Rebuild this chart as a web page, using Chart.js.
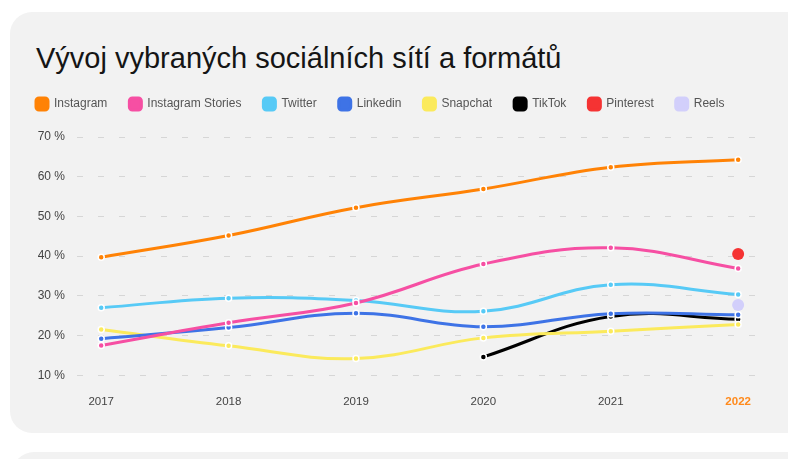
<!DOCTYPE html>
<html><head><meta charset="utf-8">
<script src="https://cdn.jsdelivr.net/npm/chart.js@4/dist/chart.umd.min.js"></script>
<style>
html,body{margin:0;padding:0;background:#fff;width:788px;height:459px;overflow:hidden;}
.card{position:absolute;background:#f2f2f2;border-radius:22px;}
#c1{left:10px;top:12px;width:800px;height:421px;}
#c2{left:12px;top:452px;width:800px;height:60px;}
#wrap{position:absolute;left:0;top:0;width:788px;height:459px;}
#title{position:absolute;left:36px;top:44px;margin:0;font:normal 29px/29px "Liberation Sans",Arial,sans-serif;color:#151515;white-space:nowrap;}
</style></head>
<body>
<div class="card" id="c1"></div><div class="card" id="c2"></div>
<h1 id="title"></h1>
<div id="wrap"><canvas id="chart" width="788" height="459"></canvas></div>
<script>
const titleText = 'Vývoj vybraných sociálních sítí a formátů';
const years = [2017, 2018, 2019, 2020, 2021, 2022];
const yTicks = [10, 20, 30, 40, 50, 60, 70];
const instagram = [39.7, 45.2, 52.2, 56.9, 62.4, 64.3];
const instagramStories = [17.5, 23.2, 28.2, 38.0, 42.1, 36.9];
const twitter = [27.0, 29.4, 28.8, 26.1, 32.8, 30.3];
const linkedin = [19.2, 22.0, 25.6, 22.2, 25.5, 25.2];
const snapchat = [21.5, 17.4, 14.2, 19.4, 21.1, 22.8];
const tiktok = [null, null, null, 14.6, 24.8, 24.1];
const pinterest = [null, null, null, null, null, 40.5];
const reels = [null, null, null, null, null, 27.7];

document.getElementById('title').textContent = titleText;

const pts = arr => years.map((y, i) => ({x: y, y: arr[i]})).filter(p => p.y !== null);
const font = '"Liberation Sans", Arial, sans-serif';

function line(label, arr, color) {
  return {label, data: pts(arr), borderColor: color, backgroundColor: color,
    borderWidth: 3, tension: 0.4, pointRadius: 3, pointBorderWidth: 1.5,
    pointBorderColor: '#ffffff', pointBackgroundColor: color, fill: false};
}
function dot(label, arr, color) {
  return {label, data: pts(arr), borderColor: color, backgroundColor: color,
    showLine: false, pointRadius: 6, pointBorderWidth: 0, pointBackgroundColor: color};
}

const legendGap = {
  id: 'legendGap',
  beforeInit(chart) {
    const fit = chart.legend.fit;
    chart.legend.fit = function () { fit.call(this); this.height += 17; };
  }
};

new Chart(document.getElementById('chart'), {
  type: 'line',
  plugins: [legendGap],
  data: {datasets: [
    line('Instagram', instagram, '#ff8205'),
    line('Instagram Stories', instagramStories, '#f64fa3'),
    line('Twitter', twitter, '#57caf6'),
    line('Linkedin', linkedin, '#3e73e6'),
    line('Snapchat', snapchat, '#fbea5c'),
    line('TikTok', tiktok, '#000000'),
    dot('Pinterest', pinterest, '#f53333'),
    dot('Reels', reels, '#d2cffb')
  ]},
  options: {
    responsive: false, animation: false,
    layout: {padding: {left: 14, right: 18, top: 76, bottom: 38}},
    plugins: {
      title: {display: false},
      legend: {align: 'start', labels: {boxWidth: 12, boxHeight: 12, useBorderRadius: true, borderRadius: 3,
        color: '#555', font: {family: font, size: 12}, padding: 22}},
      tooltip: {enabled: false}
    },
    scales: {
      x: {type: 'linear', min: 2016.81, max: 2022.25,
        afterBuildTicks: s => { s.ticks = years.map(v => ({value: v})); },
        grid: {display: false}, border: {display: false},
        ticks: {padding: 12, callback: v => String(v),
          color: c => c.tick && c.tick.value === 2022 ? '#ff8a1c' : '#444',
          font: c => ({family: font, size: 11.5, weight: c.tick && c.tick.value === 2022 ? 'bold' : 'normal'})}},
      y: {min: 10, max: 70,
        afterBuildTicks: s => { s.ticks = yTicks.map(v => ({value: v})); },
        afterFit: s => { s.width = 63; },
        grid: {color: '#d6d6d6', drawTicks: false, lineWidth: 1},
        border: {display: false, dash: [6, 15]},
        ticks: {padding: 12, color: '#444', font: {family: font, size: 12}, callback: v => v + ' %'}}
    }
  }
});
</script>
</body></html>
